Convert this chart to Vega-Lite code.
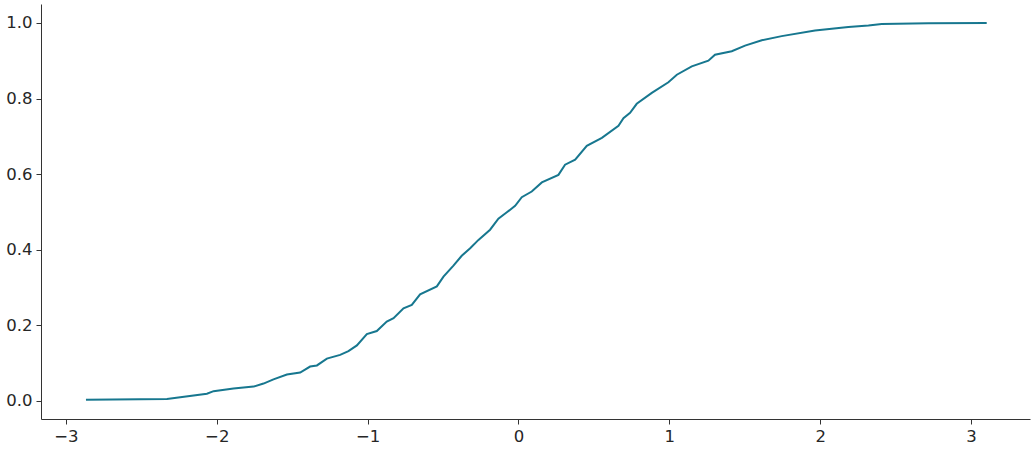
{
  "$schema": "https://vega.github.io/schema/vega-lite/v6.json",
  "autosize": "none",
  "padding": {"left": 41, "top": 4, "right": 5, "bottom": 31},
  "width": 989,
  "height": 415,
  "background": "white",
  "config": {
    "view": {"stroke": null}
  },
  "data": {
    "values": [
      {"x": -2.867, "y": 0.003},
      {"x": -2.33, "y": 0.005},
      {"x": -2.242, "y": 0.01},
      {"x": -2.065, "y": 0.019},
      {"x": -2.021, "y": 0.026},
      {"x": -1.889, "y": 0.033},
      {"x": -1.756, "y": 0.038},
      {"x": -1.69, "y": 0.046},
      {"x": -1.624, "y": 0.057},
      {"x": -1.535, "y": 0.07},
      {"x": -1.447, "y": 0.075},
      {"x": -1.381, "y": 0.091},
      {"x": -1.336, "y": 0.094},
      {"x": -1.27, "y": 0.112},
      {"x": -1.182, "y": 0.122},
      {"x": -1.127, "y": 0.132},
      {"x": -1.071, "y": 0.147},
      {"x": -1.005, "y": 0.177},
      {"x": -0.939, "y": 0.185},
      {"x": -0.873, "y": 0.21},
      {"x": -0.828, "y": 0.219},
      {"x": -0.762, "y": 0.245},
      {"x": -0.707, "y": 0.254},
      {"x": -0.652, "y": 0.282},
      {"x": -0.541, "y": 0.303},
      {"x": -0.497, "y": 0.329},
      {"x": -0.431, "y": 0.358},
      {"x": -0.376, "y": 0.384},
      {"x": -0.32, "y": 0.404},
      {"x": -0.265, "y": 0.426},
      {"x": -0.188, "y": 0.453},
      {"x": -0.133, "y": 0.482},
      {"x": -0.077, "y": 0.499},
      {"x": -0.022, "y": 0.516},
      {"x": 0.022, "y": 0.539},
      {"x": 0.088, "y": 0.554},
      {"x": 0.155, "y": 0.578},
      {"x": 0.265, "y": 0.598},
      {"x": 0.309, "y": 0.625},
      {"x": 0.376, "y": 0.638},
      {"x": 0.453, "y": 0.675},
      {"x": 0.553, "y": 0.696},
      {"x": 0.663, "y": 0.728},
      {"x": 0.696, "y": 0.748},
      {"x": 0.74, "y": 0.762},
      {"x": 0.784, "y": 0.786},
      {"x": 0.884, "y": 0.815},
      {"x": 0.994, "y": 0.843},
      {"x": 1.05, "y": 0.863},
      {"x": 1.149, "y": 0.885},
      {"x": 1.259, "y": 0.9},
      {"x": 1.303, "y": 0.916},
      {"x": 1.414, "y": 0.925},
      {"x": 1.502, "y": 0.94},
      {"x": 1.613, "y": 0.954},
      {"x": 1.745, "y": 0.965},
      {"x": 1.966, "y": 0.98},
      {"x": 2.187, "y": 0.989},
      {"x": 2.32, "y": 0.993},
      {"x": 2.408, "y": 0.997},
      {"x": 2.717, "y": 0.999},
      {"x": 3.104, "y": 1.0}
    ]
  },
  "mark": {"type": "line", "color": "#17778f", "strokeWidth": 2},
  "encoding": {
    "x": {
      "field": "x",
      "type": "quantitative",
      "scale": {"domain": [-3.165, 3.391], "nice": false, "zero": false},
      "axis": {
        "values": [-3, -2, -1, 0, 1, 2, 3],
        "format": "d",
        "title": null,
        "grid": false,
        "labelFont": "DejaVu Sans",
        "labelFontSize": 16.5,
        "labelColor": "#262626",
        "domainColor": "#333333",
        "tickColor": "#333333",
        "tickSize": 5,
        "labelPadding": 4
      }
    },
    "y": {
      "field": "y",
      "type": "quantitative",
      "scale": {"domain": [-0.0477, 1.05], "nice": false, "zero": false},
      "axis": {
        "values": [0, 0.2, 0.4, 0.6, 0.8, 1.0],
        "format": ".1f",
        "title": null,
        "grid": false,
        "labelFont": "DejaVu Sans",
        "labelFontSize": 16.5,
        "labelColor": "#262626",
        "domainColor": "#333333",
        "tickColor": "#333333",
        "tickSize": 5,
        "labelPadding": 4
      }
    }
  }
}
